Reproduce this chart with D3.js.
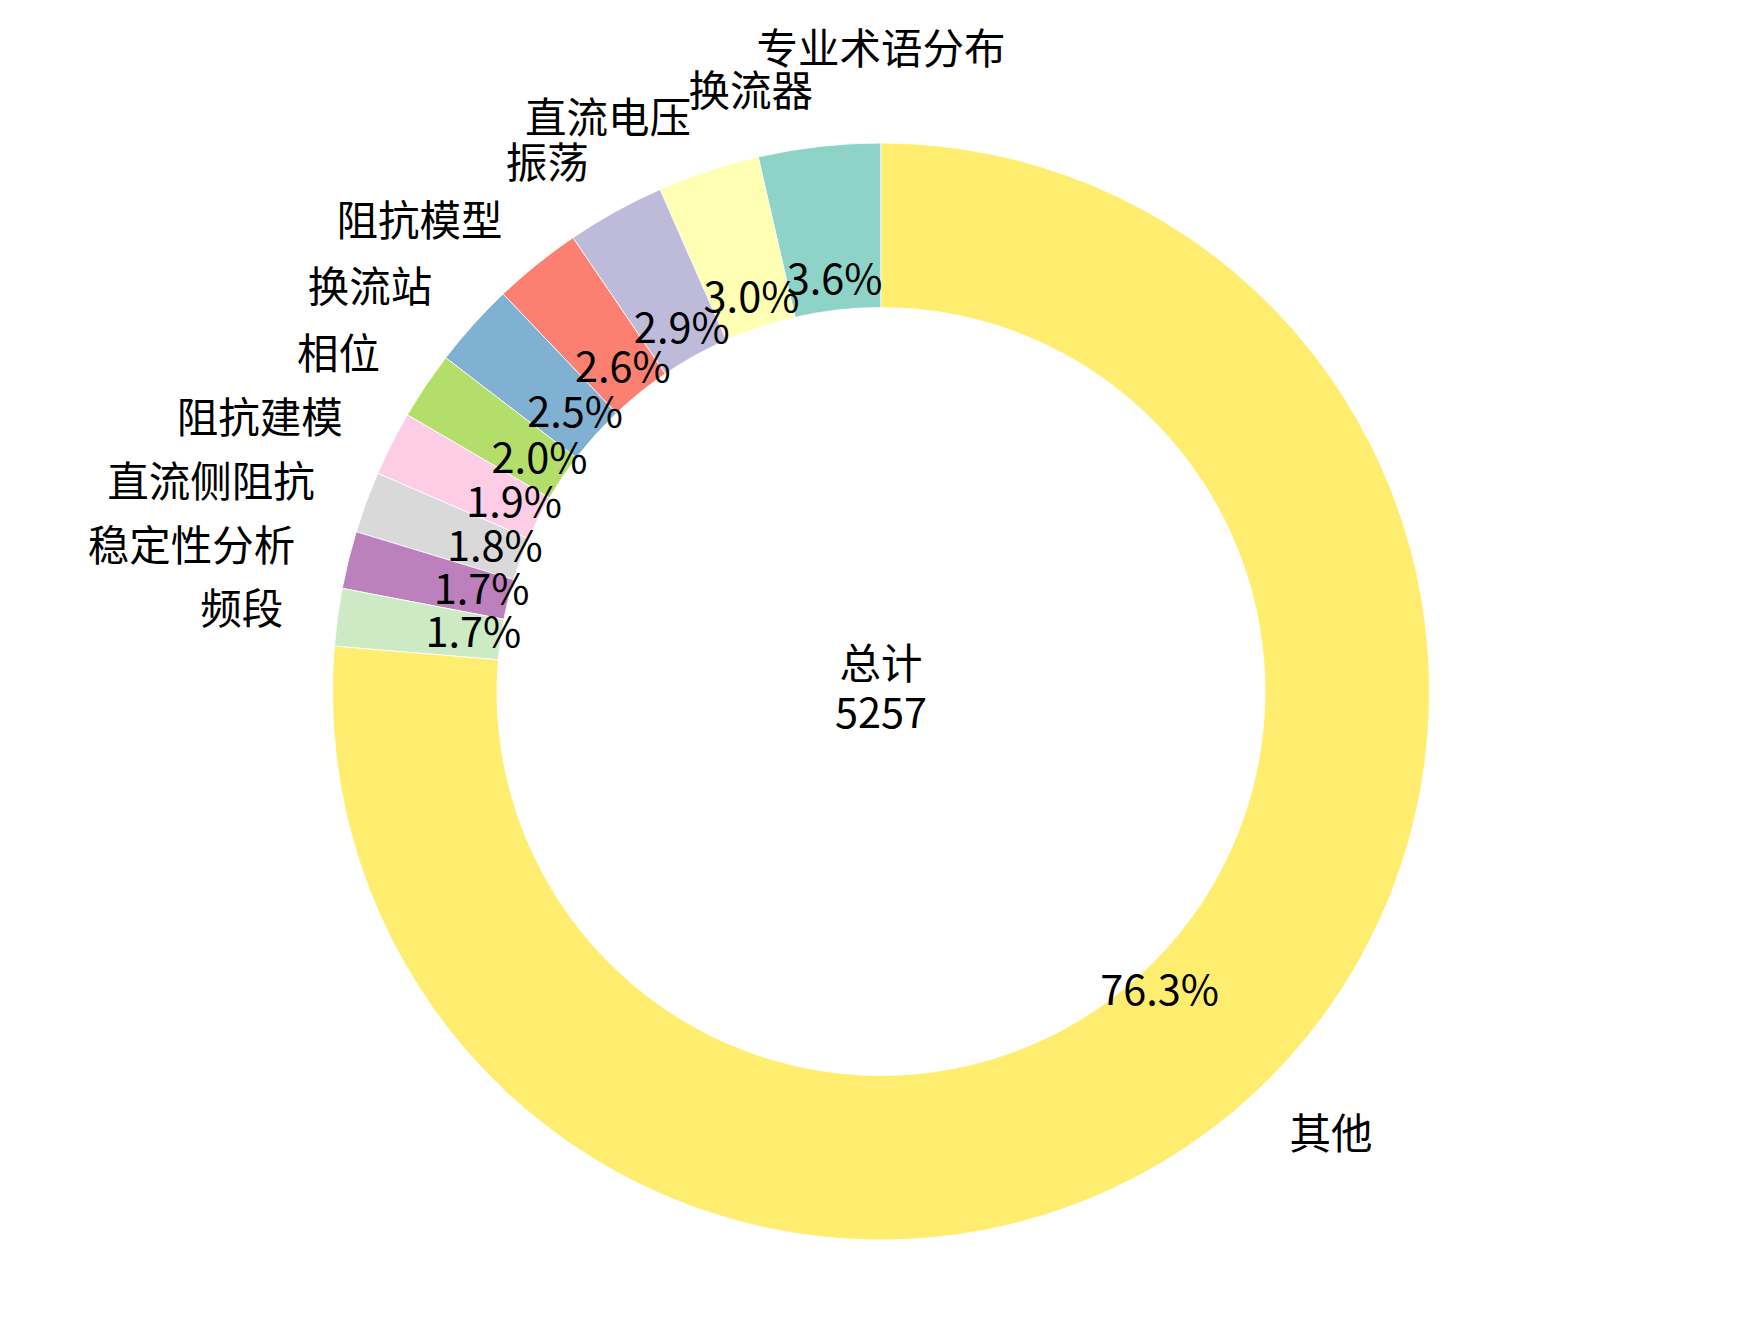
<!DOCTYPE html>
<html>
<head>
<meta charset="utf-8">
<script src="https://cdn.jsdelivr.net/npm/d3@7"></script>
<style>
  html, body { margin: 0; padding: 0; background: #ffffff; }
  svg { display: block; }
  text { font-family: "Noto Sans CJK SC", "Noto Sans", sans-serif; fill: #000; }
</style>
</head>
<body>
<svg id="chart" width="1763" height="1326"></svg>
<script>
const title = "专业术语分布";
const categories = ["换流器", "直流电压", "振荡", "阻抗模型", "换流站", "相位", "阻抗建模", "直流侧阻抗", "稳定性分析", "频段", "其他"];
const counts = [189, 158, 152, 137, 131, 105, 100, 95, 89, 89, 4012];
const colors = ["#8dd3c7", "#ffffb3", "#bebada", "#fb8072", "#80b1d3", "#b3de69", "#fccde5", "#d9d9d9", "#bc80bd", "#ccebc5", "#ffed6f"];
const centerLabel = "总计";

const W = 1763, H = 1326;
const cx = 881, cy = 691.5;
const R = 548.5, r = 384;
const fontSize = 41.5;

const svg = d3.select("#chart");
svg.append("rect").attr("width", W).attr("height", H).attr("fill", "#fff");

const total = d3.sum(counts);
const data = categories.map((c, i) => ({ name: c, value: counts[i], color: colors[i] }));

const pie = d3.pie().value(d => d.value).sort(null).startAngle(0).endAngle(-2 * Math.PI);
const arcs = pie(data);
const arc = d3.arc().innerRadius(r).outerRadius(R);

const g = svg.append("g").attr("transform", `translate(${cx},${cy})`);

g.selectAll("path.slice").data(arcs).enter().append("path")
  .attr("class", "slice")
  .attr("d", arc)
  .attr("fill", d => d.data.color)
  .attr("stroke", "#ffffff")
  .attr("stroke-width", 0.8);

const pos = (d, k) => {
  const a = (d.startAngle + d.endAngle) / 2;
  return [k * R * Math.sin(a), -k * R * Math.cos(a)];
};

// percentage labels
g.selectAll("text.pct").data(arcs).enter().append("text")
  .attr("class", "pct")
  .attr("x", d => pos(d, 0.75)[0])
  .attr("y", d => pos(d, 0.75)[1] - 7)
  .attr("text-anchor", "middle")
  .attr("dominant-baseline", "central")
  .attr("font-size", fontSize)
  .text(d => (d.data.value / total * 100).toFixed(1) + "%");

// category labels
g.selectAll("text.lab").data(arcs).enter().append("text")
  .attr("class", "lab")
  .attr("x", d => pos(d, 1.1)[0])
  .attr("y", d => pos(d, 1.1)[1] - 4)
  .attr("text-anchor", d => pos(d, 1.1)[0] > 0 ? "start" : "end")
  .attr("dominant-baseline", "central")
  .attr("font-size", fontSize)
  .text(d => d.data.name);

// center text
const ct = g.append("text").attr("text-anchor", "middle").attr("font-size", fontSize);
ct.append("tspan").attr("x", 0).attr("y", -31).attr("dominant-baseline", "central").text(centerLabel);
ct.append("tspan").attr("x", 0).attr("y", 18).attr("dominant-baseline", "central").text(String(total));

// title
svg.append("text")
  .attr("x", cx).attr("y", 46)
  .attr("text-anchor", "middle")
  .attr("dominant-baseline", "central")
  .attr("font-size", fontSize)
  .text(title);
</script>
</body>
</html>
